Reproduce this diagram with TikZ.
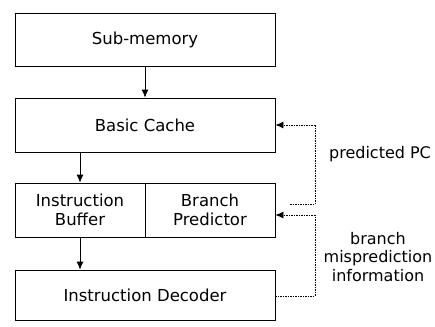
\documentclass[tikz,border=0pt]{standalone}
\usepackage{fontspec}
\setmainfont{DejaVu Sans}
\usetikzlibrary{arrows.meta}
\begin{document}
\begin{tikzpicture}[x=1pt,y=-1pt,
  blockbox/.style={draw=black,line width=0.8pt,minimum width=260pt,inner sep=0pt,font=\fontsize{16.5}{18.5}\selectfont,align=center},
  halfbox/.style={draw=black,line width=0.8pt,minimum width=130pt,minimum height=54pt,inner sep=0pt,font=\fontsize{16.5}{18.5}\selectfont,align=center},
  flow/.style={line width=0.8pt,-{Latex[length=8pt,width=7pt]}},
  feedback/.style={line width=0.8pt,dash pattern=on 1.5pt off 1pt},
  sidelabel/.style={font=\fontsize{16}{18.5}\selectfont,align=center}]
\useasboundingbox (0,0) rectangle (435,326);
\node[blockbox,minimum height=53pt] (sub) at (145,39.5) {Sub-memory};
\node[blockbox,minimum height=54pt] (cache) at (145,125) {Basic Cache};
\node[halfbox] (ib) at (80,210) {Instruction\\Buffer};
\node[halfbox] (bp) at (210,210) {Branch\\Predictor};
\node[blockbox,minimum height=50pt] (dec) at (145,295) {Instruction Decoder};
\draw[flow] (sub.south) -- (cache.north);
\draw[flow] (ib.north |- cache.south) -- (ib.north);
\draw[flow] (ib.south) -- (ib.south |- dec.north);
\coordinate (pcstart) at (290,204);
\coordinate (pcturn) at (315,204);
\coordinate (pctop) at (315,125);
\draw[feedback] (pcstart) -- (pcturn) -- (pctop);
\draw[feedback,-{Latex[length=8pt,width=7pt]}] (pctop) -- (cache.east);
\coordinate (mpa) at (315,296);
\coordinate (mpb) at (315,215);
\draw[feedback] (dec.east |- mpa) -- (mpa) -- (mpb);
\draw[feedback,-{Latex[length=8pt,width=7pt]}] (mpb) -- (bp.east |- mpb);
\node[sidelabel] (pclabel) at (380,154) {predicted PC};
\node[sidelabel] (mplabel) at (378,257) {branch\\misprediction\\information};
\end{tikzpicture}
\end{document}
